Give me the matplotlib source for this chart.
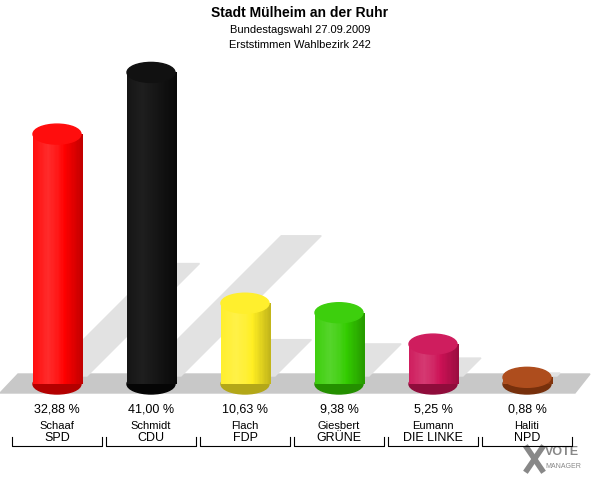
import matplotlib
matplotlib.use("Agg")
import matplotlib.pyplot as plt
import numpy as np
from matplotlib.patches import Ellipse, Polygon, Rectangle

names = ["Schaaf", "Schmidt", "Flach", "Giesbert", "Eumann", "Haliti"]
parties = ["SPD", "CDU", "FDP", "GRÜNE", "DIE LINKE", "NPD"]
values = [32.88, 41.00, 10.63, 9.38, 5.25, 0.88]
labels = ["32,88 %", "41,00 %", "10,63 %", "9,38 %", "5,25 %", "0,88 %"]
colors = ["#ff0000", "#000000", "#ffee22", "#33cc00", "#cc1155", "#aa4411"]

fig = plt.figure(figsize=(6, 4.8), dpi=100)
ax = fig.add_axes([0, 0, 1, 1])
ax.set_xlim(0, 600); ax.set_ylim(480, 0); ax.axis("off")

base = 384; scale = 7.6; w = 48; eh = 20; spacing = 94; x0 = 57

ax.add_patch(Polygon([(0, 393), (575, 393), (590, 374), (18, 374)], color="#c8c8c8", zorder=1))

def shade(c, f):
    c = np.array(matplotlib.colors.to_rgb(c))
    if f >= 0:
        return tuple(c + (1 - c) * f)
    return tuple(c * (1 + f))

for i, v in enumerate(values):
    cx = x0 + i * spacing
    h = v * scale
    top = base - h
    L = h * 0.45
    ax.add_patch(Polygon([(cx - 10, base - 8), (cx + 30, base - 8), (cx + 30 + L, base - 8 - L),
                          (cx - 10 + L, base - 8 - L)], color="#e2e2e2", zorder=1.5))
    n = 40
    for k in range(n):
        t = k / (n - 1)
        f = 0.45 * (1 - abs(t - 0.3) / 0.7) - 0.45 * max(0, t - 0.5)
        if colors[i] == "#000000":
            col = (0.12 * (1 - abs(t - 0.3)),) * 3
        else:
            col = shade(colors[i], f * 0.6 - 0.1)
        xs = cx - w / 2 + t * w
        ax.add_patch(Rectangle((xs, top), w / n + 0.3, h, color=col, lw=0, zorder=2))
    ax.add_patch(Ellipse((cx, base), w, eh, color=shade(colors[i], -0.3) if colors[i] != "#000000" else "#050505", zorder=1.9))
    ax.add_patch(Ellipse((cx, top), w, eh, color=shade(colors[i], 0.05) if colors[i] != "#000000" else "#111111", zorder=3))
    ax.text(cx, 409, labels[i], ha="center", va="center", fontsize=9, family="Liberation Sans")
    ax.text(cx, 426, names[i], ha="center", va="center", fontsize=8, family="Liberation Sans")
    ax.text(cx, 438, parties[i], ha="center", va="center", fontsize=9, family="Liberation Sans")
    ax.plot([cx - 45, cx - 45, cx + 45, cx + 45], [437, 446, 446, 437], color="black", lw=0.8, zorder=4)

ax.text(300, 13, "Stadt Mülheim an der Ruhr", ha="center", va="center", fontsize=10, weight="bold", family="Liberation Sans")
ax.text(300, 30, "Bundestagswahl 27.09.2009", ha="center", va="center", fontsize=8, family="Liberation Sans")
ax.text(300, 45, "Erststimmen Wahlbezirk 242", ha="center", va="center", fontsize=8, family="Liberation Sans")
ax.text(545, 452, "VOTE", ha="left", va="center", fontsize=9, weight="bold", color="#888888", family="Liberation Sans")
ax.text(545, 466, "MANAGER", ha="left", va="center", fontsize=5, color="#888888", family="Liberation Sans")
ax.plot([527, 542], [448, 470], color="#888888", lw=4)
ax.plot([527, 542], [470, 448], color="#888888", lw=4)
fig.savefig("out.png", dpi=100)
